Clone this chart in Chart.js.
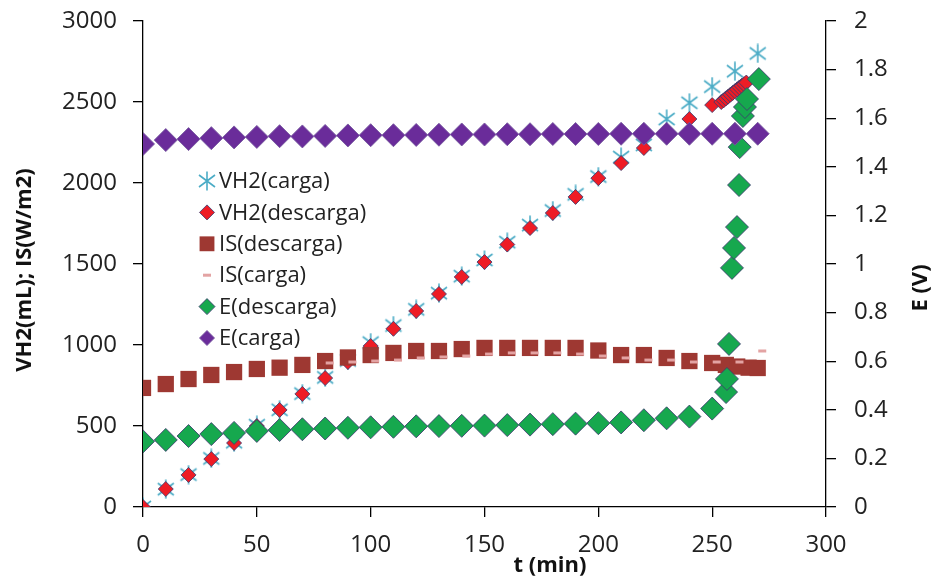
<!DOCTYPE html>
<html><head><meta charset="utf-8">
<script src="https://cdn.jsdelivr.net/npm/chart.js@4.4.0/dist/chart.umd.min.js"></script>
<style>html,body{margin:0;padding:0;background:#fff;}canvas{display:block;}</style>
</head><body>
<canvas id="c" width="935" height="582"></canvas>
<script>
// ---- data ----
const seriesNames = ['VH2(carga)', 'VH2(descarga)', 'IS(descarga)', 'IS(carga)', 'E(descarga)', 'E(carga)'];
const xTitle = 't (min)';
const yLeftTitle = 'VH2(mL); IS(W/m2)';
const yRightTitle = 'E (V)';
const xTicks = [0, 50, 100, 150, 200, 250, 300];
const yLeftTicks = [0, 500, 1000, 1500, 2000, 2500, 3000];
const yRightTicks = [0, 0.2, 0.4, 0.6, 0.8, 1, 1.2, 1.4, 1.6, 1.8, 2];

const tVH2Carga = [0,10,20,30,40,50,60,70,80,90,100,110,120,130,140,150,160,170,180,190,200,210,220,230,240,250,260,270];
const vh2Carga  = [0,110,200,300,400,505,600,700,800,905,1015,1120,1220,1320,1425,1525,1635,1740,1830,1930,2040,2160,2235,2395,2495,2595,2690,2800];

const tVH2Descarga = [0,10,20,30,40,50,60,70,80,90,100,110,120,130,140,150,160,170,180,190,200,210,220,230,240,250,254,255,256,257,258,259,260,261,262,263,264,265];
const vh2Descarga  = [0,111,198,296,395,500,599,698,796,895,994,1100,1210,1315,1420,1512,1620,1722,1815,1914,2030,2123,2216,2310,2395,2481,2500,2510,2522,2533,2545,2556,2567,2578,2590,2600,2610,2620];

const tISDescarga = [0,10,20,30,40,50,60,70,80,90,100,110,120,130,140,150,160,170,180,190,200,210,220,230,240,250,256,261,266,270];
const isDescarga  = [735,759,790,815,833,852,860,877,901,923,938,951,963,963,975,982,982,982,982,982,966,938,938,920,901,889,877,867,860,858];

const tISCarga = [82,92,102,112,122,132,142,152,162,172,182,192,202,212,222,232,242,252,262,272];
const isCarga  = [889,895,901,907,920,926,932,944,951,951,951,944,932,920,907,907,895,895,895,963];

const tEDescarga = [0,10,20,30,40,50,60,70,80,90,100,110,120,130,140,150,160,170,180,190,200,210,220,230,240,250,256.1,256.5,257.4,258.7,259.6,260.9,261.8,262.1,263.5,264.4,265.3,270.5];
const eDescarga  = [0.27,0.276,0.292,0.30,0.305,0.313,0.317,0.32,0.323,0.326,0.328,0.33,0.332,0.333,0.334,0.335,0.337,0.339,0.341,0.343,0.345,0.348,0.357,0.365,0.372,0.405,0.473,0.527,0.671,0.984,1.066,1.152,1.325,1.481,1.609,1.646,1.679,1.761];

const tECarga = [0,10,20,30,40,50,60,70,80,90,100,110,120,130,140,150,160,170,180,190,200,210,220,230,240,250,260,270];
const eCarga  = [1.494,1.51,1.514,1.518,1.521,1.523,1.526,1.525,1.527,1.529,1.53,1.53,1.531,1.532,1.533,1.533,1.534,1.534,1.535,1.535,1.535,1.536,1.536,1.536,1.536,1.536,1.536,1.536];

// ---- helpers ----
const pts = (xs, ys) => xs.map((x, i) => ({x: x, y: ys[i]}));
function makeAsterisk(color) {
  const c = document.createElement('canvas');
  c.width = 20; c.height = 20;
  const g = c.getContext('2d');
  g.strokeStyle = color; g.lineWidth = 1.6;
  g.beginPath();
  g.moveTo(10, 0.5); g.lineTo(10, 19.5);
  g.moveTo(2, 4); g.lineTo(18, 16);
  g.moveTo(2, 16); g.lineTo(18, 4);
  g.stroke();
  return c;
}
const asterisk = makeAsterisk('#4BACC6');
const FONT = '"Open Sans", "Noto Sans", sans-serif';
const outline = 'rgba(60,60,110,0.85)';

const datasets = [
  {label: seriesNames[0], data: pts(tVH2Carga, vh2Carga), yAxisID: 'y', pointStyle: asterisk, pointRadius: 10, backgroundColor: '#4BACC6', borderColor: '#4BACC6', borderWidth: 0, order: 6, legendR: 9},
  {label: seriesNames[1], data: pts(tVH2Descarga, vh2Descarga), yAxisID: 'y', pointStyle: 'rectRot', pointRadius: 7.5, backgroundColor: '#EE1C25', borderColor: outline, borderWidth: 1, order: 5, legendR: 7.5},
  {label: seriesNames[2], data: pts(tISDescarga, isDescarga), yAxisID: 'y', pointStyle: 'rect', pointRadius: 11.5, backgroundColor: '#9E3832', borderColor: '#9E3832', borderWidth: 0, order: 4, legendR: 10.5},
  {label: seriesNames[3], data: pts(tISCarga, isCarga), yAxisID: 'y', pointStyle: 'line', pointRadius: 4, backgroundColor: '#E3A3A3', borderColor: '#E3A3A3', borderWidth: 3, order: 3, legendR: 4},
  {label: seriesNames[4], data: pts(tEDescarga, eDescarga), yAxisID: 'y1', pointStyle: 'rectRot', pointRadius: 11.5, backgroundColor: '#16A84E', borderColor: outline, borderWidth: 1, order: 2, legendR: 8},
  {label: seriesNames[5], data: pts(tECarga, eCarga), yAxisID: 'y1', pointStyle: 'rectRot', pointRadius: 11.5, backgroundColor: '#6A2C9A', borderColor: 'rgba(120,90,160,0.9)', borderWidth: 1, order: 1, legendR: 7.5}
];
datasets.forEach(d => { d.showLine = false; d.pointHoverRadius = d.pointRadius; d.pointBorderWidth = d.borderWidth; });

function drawMarker(ctx, ds, x, y, r) {
  ctx.save();
  ctx.fillStyle = ds.backgroundColor;
  ctx.strokeStyle = ds.borderColor;
  ctx.lineWidth = ds.borderWidth;
  const st = ds.pointStyle;
  if (typeof st !== 'string') {
    ctx.drawImage(st, x - st.width / 2, y - st.height / 2);
  } else if (st === 'rectRot') {
    ctx.beginPath();
    ctx.moveTo(x - r, y); ctx.lineTo(x, y - r); ctx.lineTo(x + r, y); ctx.lineTo(x, y + r); ctx.closePath();
    ctx.fill(); if (ds.borderWidth) ctx.stroke();
  } else if (st === 'rect') {
    const s = r * Math.SQRT1_2;
    ctx.fillRect(x - s, y - s, 2 * s, 2 * s);
  } else if (st === 'line') {
    ctx.beginPath(); ctx.moveTo(x - r, y); ctx.lineTo(x + r, y); ctx.stroke();
  }
  ctx.restore();
}

const legendPlugin = {
  id: 'insideLegend',
  afterDraw(chart) {
    const ctx = chart.ctx;
    ctx.save();
    ctx.font = '22px ' + FONT;
    ctx.textAlign = 'left';
    ctx.textBaseline = 'middle';
    chart.data.datasets.forEach((ds, i) => {
      const y = 181 + i * 31.4;
      drawMarker(ctx, ds, 207, y, ds.legendR);
      ctx.fillStyle = '#222';
      ctx.fillText(ds.label, 219, y + 1);
    });
    ctx.restore();
  }
};

const titlesPlugin = {
  id: 'axisTitles',
  afterDraw(chart) {
    const ctx = chart.ctx;
    ctx.save();
    ctx.font = 'bold 22px ' + FONT;
    ctx.fillStyle = '#111';
    ctx.textAlign = 'center';
    ctx.textBaseline = 'middle';
    ctx.fillText(xTitle, 550, 566);
    ctx.save(); ctx.translate(25, 270); ctx.rotate(-Math.PI / 2); ctx.fillText(yLeftTitle, 0, 0); ctx.restore();
    ctx.save(); ctx.translate(921, 288); ctx.rotate(-Math.PI / 2); ctx.fillText(yRightTitle, 0, 0); ctx.restore();
    ctx.restore();
  }
};

const tickFont = {family: FONT, size: 24};
const axisCommon = {
  border: {display: true, color: '#000', width: 1.3},
  grid: {display: true, drawOnChartArea: false, drawTicks: true, tickLength: 10, color: '#000', lineWidth: 1.3}
};
const fmt = v => String(+Number(v).toFixed(2));

new Chart(document.getElementById('c'), {
  type: 'scatter',
  data: {datasets: datasets},
  options: {
    responsive: false,
    animation: false,
    layout: {padding: {top: 21, left: 0, right: 0, bottom: 0}},
    plugins: {legend: {display: false}, tooltip: {enabled: false}},
    scales: {
      x: Object.assign({}, axisCommon, {
        type: 'linear', position: 'bottom', min: 0, max: 300,
        afterBuildTicks: s => { s.ticks = xTicks.map(v => ({value: v})); },
        afterFit: s => { s.height = 75; s.paddingLeft = 0; s.paddingRight = 0; },
        ticks: {font: tickFont, color: '#222', padding: 14, maxRotation: 0, callback: fmt}
      }),
      y: Object.assign({}, axisCommon, {
        type: 'linear', position: 'left', min: 0, max: 3000,
        afterBuildTicks: s => { s.ticks = yLeftTicks.map(v => ({value: v})); },
        afterFit: s => { s.width = 143; s.paddingTop = 0; s.paddingBottom = 0; },
        ticks: {font: tickFont, color: '#222', padding: 16, callback: fmt}
      }),
      y1: Object.assign({}, axisCommon, {
        type: 'linear', position: 'right', min: 0, max: 2,
        afterBuildTicks: s => { s.ticks = yRightTicks.map(v => ({value: v})); },
        afterFit: s => { s.width = 109; s.paddingTop = 0; s.paddingBottom = 0; },
        ticks: {font: tickFont, color: '#222', padding: 18, callback: fmt}
      })
    }
  },
  plugins: [legendPlugin, titlesPlugin]
});
</script>
</body></html>
